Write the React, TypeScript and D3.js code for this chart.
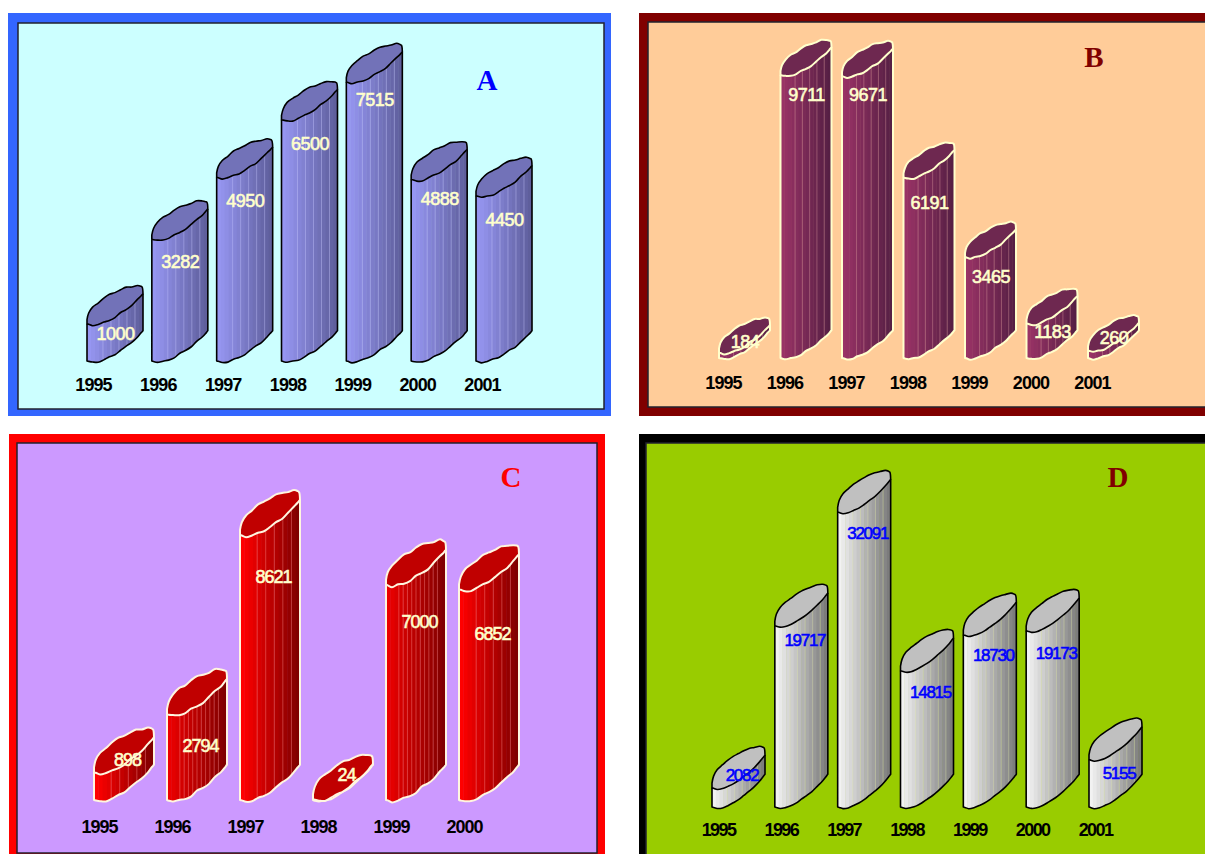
import React, { useEffect, useRef } from 'react';
import * as d3 from 'd3';

// Values
const yearsAll = ['1995', '1996', '1997', '1998', '1999', '2000', '2001'];
const yearsC = ['1995', '1996', '1997', '1998', '1999', '2000'];
const valuesA = [1000, 3282, 4950, 6500, 7515, 4888, 4450];
const valuesB = [184, 9711, 9671, 6191, 3465, 1183, 260];
const valuesC = [898, 2794, 8621, 24, 7000, 6852];
const valuesD = [2082, 19717, 32091, 14815, 18730, 19173, 5155];

// Normalised outline of the slanted top face: [share of width, share of slant]
const rightEnd = 0.84;
const upperEdge: [number, number][] = [[0, 0.12], [0.03, 0.3], [0.1, 0.47], [0.2, 0.6], [0.35, 0.76], [0.52, 0.9], [0.68, 1], [0.82, 1.05], [0.93, 1.07], [0.985, 1.02], [1, rightEnd]];
const lowerEdge: [number, number][] = [[0, 0], [0.1, -0.04], [0.2, -0.02], [0.35, 0.06], [0.53, 0.22], [0.7, 0.4], [0.82, 0.55], [0.92, 0.7], [1, rightEnd]];
const samples = [0, 0.03, 0.1, 0.2, 0.3, 0.4, 0.5, 0.6, 0.7, 0.8, 0.9, 0.96, 0.985, 1];
const jitter = [0.5, -0.8, 0.3, 1, -0.4, -0.9, 0.7, 0.1, -0.6, 0.9, -0.2, -0.7, 0.4, 0.8, -1, 0.2];

const panels = [
  {
    id: 'a', title: 'A', years: yearsAll, values: valuesA,
    frame: [8, 13, 603, 403], plot: [18, 23, 586, 386], frameColor: '#3366ff', plotColor: '#ccffff', titleColor: '#0000ff',
    titleAt: [487, 90], firstX: 87, lastX: 476, barW: 56, slant: 36, baseY: 361, maxH: 279, maxV: 7515,
    bodyColors: ['#9696f2', '#5f5f9c'], topColor: '#7272b8', stroke: '#000', strokeW: 1.6, stripe: '#c8c8ff', wobble: 0.8,
    labelColor: '#ffffcc', labelSize: 18, labelSpacing: -0.5, labelShift: 1, labelOffsets: [10, 22, 23, 24, 18, 19, 24], yearY: 385, yearShift: 6, yearSpacing: -0.9, denseBars: [] as number[],
  },
  {
    id: 'b', title: 'B', years: yearsAll, values: valuesB,
    frame: [639, 13, 600, 403], plot: [648, 22, 600, 385], frameColor: '#800000', plotColor: '#ffcc99', titleColor: '#800000',
    titleAt: [1094, 67], firstX: 719, lastX: 1088, barW: 51, slant: 33, baseY: 358, maxH: 283, maxV: 9711,
    bodyColors: ['#993366', '#561f44'], topColor: '#6e2850', stroke: '#ffffcc', strokeW: 2, stripe: '#e0a0a0', wobble: 0.8,
    labelColor: '#ffffcc', labelSize: 18, labelSpacing: -0.5, labelShift: 1, labelOffsets: [-11, 20, 18, 25, 19, 8, -13], yearY: 383, yearShift: 4, yearSpacing: -0.9, denseBars: [] as number[],
  },
  {
    id: 'c', title: 'C', years: yearsC, values: valuesC,
    frame: [9, 434, 596, 430], plot: [17, 443, 580, 410], frameColor: '#ff0000', plotColor: '#cc99ff', titleColor: '#ff0000',
    titleAt: [511, 487], firstX: 94, lastX: 459, barW: 60, slant: 42, baseY: 800, maxH: 265, maxV: 8621,
    bodyColors: ['#ff0000', '#800000'], topColor: '#c00000', stroke: '#fff6e0', strokeW: 2, stripe: '#ff9090', wobble: 0.9,
    labelColor: '#ffffcc', labelSize: 18, labelSpacing: -1, labelShift: 4, labelOffsets: [-13, 31, 42, -25, 37, 44], yearY: 827, yearShift: 5, yearSpacing: -1, denseBars: [1, 4],
  },
  {
    id: 'd', title: 'D', years: yearsAll, values: valuesD,
    frame: [639, 434, 600, 430], plot: [646, 443, 600, 420], frameColor: '#000000', plotColor: '#99cc00', titleColor: '#800000',
    titleAt: [1118, 487], firstX: 712, lastX: 1089, barW: 53, slant: 39, baseY: 807, maxH: 295, maxV: 32091,
    bodyColors: ['#f2f2f2', '#7c7c7c'], topColor: '#c0c0c0', stroke: '#000', strokeW: 1.6, stripe: '#dfe6a8', wobble: 0.25,
    labelColor: '#0000ff', labelSize: 17, labelSpacing: -1.3, labelShift: 4, labelOffsets: [-13, 14, 21, 21, 20, 22, 13], yearY: 830, yearShift: 6, yearSpacing: -1.6, denseBars: [] as number[],
  },
];

const App: React.FC = () => {
  const svgRef = useRef<SVGSVGElement>(null);

  useEffect(() => {
    if (!svgRef.current) return;
    const svg = d3.select(svgRef.current);
    svg.selectAll('*').remove();

    const defs = svg.append('defs');
    const curve = d3.line<[number, number]>().curve(d3.curveCatmullRom.alpha(0.5));
    // the same curve, but to be joined onto a path already under way
    const joined = (pts: [number, number][]) => (curve(pts) as string).replace(/^M/, 'L');

    panels.forEach(p => {
      const g = svg.append('g');

      // frame and plot area
      g.append('rect')
        .attr('x', p.frame[0]).attr('y', p.frame[1])
        .attr('width', p.frame[2]).attr('height', p.frame[3])
        .attr('fill', p.frameColor);
      g.append('rect')
        .attr('x', p.plot[0]).attr('y', p.plot[1])
        .attr('width', p.plot[2]).attr('height', p.plot[3])
        .attr('fill', p.plotColor)
        .attr('stroke', '#22222e')
        .attr('stroke-width', 1.5);

      const xScale = d3.scalePoint<string>()
        .domain(p.years)
        .range([p.firstX, p.lastX]);
      const yScale = d3.scaleLinear()
        .domain([0, p.maxV])
        .range([p.baseY, p.baseY - p.maxH]);
      const shade = d3.interpolateRgb(p.bodyColors[0], p.bodyColors[1]);

      p.values.forEach((value, i) => {
        const x = xScale(p.years[i]) as number;
        const lip = yScale(value);
        const w = p.barW;
        const dense = p.denseBars.includes(i);

        // wavy outline of an edge, measured from a lip at y0
        const edge = (profile: [number, number][], y0: number, seed: number): [number, number][] => {
          const fy = d3.scaleLinear().domain(profile.map(d => d[0])).range(profile.map(d => d[1]));
          return samples.map((t, k) => {
            const fade = Math.min(1, Math.min(t, 1 - t) * 6);
            const n = jitter[(i * 5 + k + seed) % jitter.length] * p.wobble * fade * (dense ? 1.5 : 1);
            return [x + t * w, y0 - fy(t) * p.slant + n] as [number, number];
          });
        };

        const upper = edge(upperEdge, lip, 0);
        const lower = edge(lowerEdge, lip, 7);
        const bottom = edge(lowerEdge, p.baseY, 3);
        const rightTop = lip - rightEnd * p.slant;
        const rightBottom = p.baseY - rightEnd * p.slant;

        const bodyPath = `M${x},${lip}L${x},${p.baseY}${joined(bottom)}L${x + w},${rightTop}`
          + `${joined([...upper].reverse())}Z`;
        const topPath = `M${x},${lip}${joined(upper)}${joined([...lower].reverse())}Z`;

        const clipId = `clip-${p.id}-${i}`;
        defs.append('clipPath').attr('id', clipId).append('path').attr('d', bodyPath);

        const bar = g.append('g');
        const body = bar.append('g').attr('clip-path', `url(#${clipId})`);
        const bands = 14;
        const bandTop = lip - p.slant * 1.3;
        d3.range(bands).forEach(b => {
          body.append('rect')
            .attr('x', x + (b * w) / bands)
            .attr('y', bandTop)
            .attr('width', w / bands + 0.5)
            .attr('height', p.baseY - bandTop + 4)
            .attr('fill', shade(dense ? 0.15 + (0.85 * b) / (bands - 1) : b / (bands - 1)));
          if ((dense || b % 2 === 0) && b > 2 && b < bands - 1) {
            body.append('line')
              .attr('x1', x + (b * w) / bands)
              .attr('x2', x + (b * w) / bands)
              .attr('y1', bandTop)
              .attr('y2', p.baseY + 4)
              .attr('stroke', p.stripe)
              .attr('stroke-opacity', 0.4);
          }
        });

        // outline of the body, then the top face over it
        bar.append('path')
          .attr('d', `M${x},${lip}L${x},${p.baseY}${joined(bottom)}L${x + w},${rightBottom}L${x + w},${rightTop}`)
          .attr('fill', 'none')
          .attr('stroke', p.stroke)
          .attr('stroke-width', p.strokeW)
          .attr('stroke-linejoin', 'round');
        bar.append('path')
          .attr('d', topPath)
          .attr('fill', p.topColor)
          .attr('stroke', p.stroke)
          .attr('stroke-width', p.strokeW)
          .attr('stroke-linejoin', 'round');

        bar.append('text')
          .attr('x', x + w / 2 - 0.5 + p.labelShift)
          .attr('y', lip + p.labelOffsets[i])
          .attr('dy', '0.36em')
          .attr('text-anchor', 'middle')
          .style('font-family', '"Liberation Sans", Arial, sans-serif')
          .style('font-size', `${p.labelSize}px`)
          .style('letter-spacing', `${p.labelSpacing}px`)
          .style('fill', p.labelColor)
          .style('stroke', p.labelColor)
          .style('stroke-width', 0.6)
          .text(String(value));
      });

      // year labels through a bottom axis without line or ticks
      const axis = g.append('g')
        .attr('transform', `translate(${p.yearShift},${p.yearY})`)
        .call(d3.axisBottom(xScale).tickSize(0).tickPadding(0));
      axis.select('.domain').remove();
      axis.selectAll('text')
        .attr('y', 0)
        .attr('dy', '0.36em')
        .style('font-family', '"Liberation Sans", Arial, sans-serif')
        .style('font-weight', '700')
        .style('font-size', '18px')
        .style('letter-spacing', `${p.yearSpacing}px`)
        .style('fill', '#000');

      g.append('text')
        .attr('x', p.titleAt[0])
        .attr('y', p.titleAt[1])
        .attr('text-anchor', 'middle')
        .style('font-family', '"Liberation Serif", "Times New Roman", serif')
        .style('font-weight', '700')
        .style('font-size', '29px')
        .style('fill', p.titleColor)
        .text(p.title);
    });
  }, []);

  return (
    <svg
      ref={svgRef}
      width={1205}
      height={854}
      style={{ position: 'absolute', left: 0, top: 0, background: '#fff' }}
    />
  );
};

export default App;
